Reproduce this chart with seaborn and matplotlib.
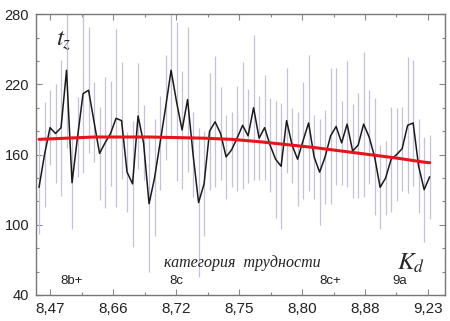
# Recreate: t_z vs K_d with error bars and trend curve
import numpy as np
import pandas as pd
import seaborn as sns
import matplotlib.pyplot as plt
from matplotlib.ticker import MultipleLocator, FixedLocator

sns.set_style('ticks')
plt.rcParams['font.family'] = ['Liberation Sans', 'DejaVu Sans']
plt.rcParams['mathtext.fontset'] = 'stix'

# route index (sorted by difficulty) and mean time t_z
route_idx = list(range(72))
t_z = [132, 160, 183, 178, 183, 232, 136, 175, 212, 215, 188, 161,
       170, 178, 191, 189, 145, 135, 193, 170, 118, 140, 170, 200,
       232, 205, 181, 207, 160, 119, 135, 180, 188, 178, 158, 164,
       174, 185, 176, 200, 174, 183, 168, 156, 150, 189, 168, 156,
       172, 187, 158, 145, 158, 176, 184, 170, 186, 163, 168, 186,
       175, 158, 132, 140, 156, 160, 165, 185, 187, 150, 130, 141]
# spread of each point (half length of the grey bars)
t_err = [40, 45, 32, 42, 58, 66, 40, 34, 68, 54, 34, 40,
         56, 45, 76, 50, 34, 54, 45, 32, 58, 50, 40, 45,
         58, 68, 50, 62, 36, 64, 45, 50, 56, 40, 36, 32,
         45, 54, 40, 62, 36, 45, 40, 50, 54, 45, 32, 40,
         50, 58, 36, 45, 40, 58, 50, 36, 54, 40, 45, 62,
         40, 50, 36, 32, 45, 40, 36, 58, 54, 40, 45, 36]
# smoothed trend (red curve)
trend_idx = [0, 5, 10, 15, 20, 25, 30, 35, 40, 45, 50, 55, 60, 65, 70, 71]
trend_val = [173, 174, 175, 175, 175, 174.5, 174, 173, 171, 168.5, 166,
             163, 160, 157, 153.5, 153]

tick_pos = [2, 13.45, 24.9, 36.35, 47.8, 59.25, 70.7]
tick_lab = ['8,47', '8,66', '8,72', '8,75', '8,80', '8,88', '9,23']
cat_pos = [6.0, 25, 53, 65.5]
cat_lab = ['8b+', '8c', '8c+', '9a']

df = pd.DataFrame({'idx': route_idx, 't': t_z, 'err': t_err})
trend = pd.DataFrame({'idx': trend_idx, 't': trend_val})

fig = plt.figure(figsize=(4.5, 3.21), dpi=100)
ax = fig.add_axes([0.08, 0.081, 0.909, 0.875])

ax.vlines(df['idx'], df['t'] - df['err'], df['t'] + df['err'],
          color='#c2c2dc', linewidth=0.9, zorder=1)
sns.lineplot(data=df, x='idx', y='t', ax=ax, color='#1a1a1a',
             linewidth=1.1, zorder=2)
sns.lineplot(data=trend, x='idx', y='t', ax=ax, color='#e8141c',
             linewidth=2.2, zorder=3)

ax.set_xlim(-0.55, 73.8)
ax.set_ylim(40, 280)
ax.set_xlabel('')
ax.set_ylabel('')

ax.yaxis.set_major_locator(FixedLocator([40, 100, 160, 220, 280]))
ax.yaxis.set_minor_locator(MultipleLocator(20))
ax.xaxis.set_major_locator(FixedLocator(tick_pos))
ax.xaxis.set_minor_locator(FixedLocator([p + 5.725 for p in tick_pos[:-1]]))
ax.set_xticklabels(tick_lab)
ax.tick_params(which='both', direction='in', top=True, right=True,
               color='#888888', width=0.8)
ax.tick_params(which='major', length=4)
ax.tick_params(which='minor', length=2.5)
ax.tick_params(axis='y', labelsize=10.5, pad=5, labelcolor='#222222')
ax.tick_params(axis='x', labelsize=11, pad=5, labelcolor='#222222')
for s in ax.spines.values():
    s.set_color('#777777')
    s.set_linewidth(1)

ax.text(3.0, 257, '$t_z$', fontsize=18, ha='left', va='center')
ax.text(65.0, 67, '$K_d$', fontsize=18, ha='left', va='center')
ax.text(37, 67, 'категория  трудности', fontsize=11.5,
        family=['Liberation Serif', 'DejaVu Serif'], style='italic',
        ha='center', va='center', color='#222222')
for p, l in zip(cat_pos, cat_lab):
    ax.text(p, 52, l, fontsize=9.5, ha='center', va='center', color='#222222')

fig.savefig('out.png', dpi=100)
